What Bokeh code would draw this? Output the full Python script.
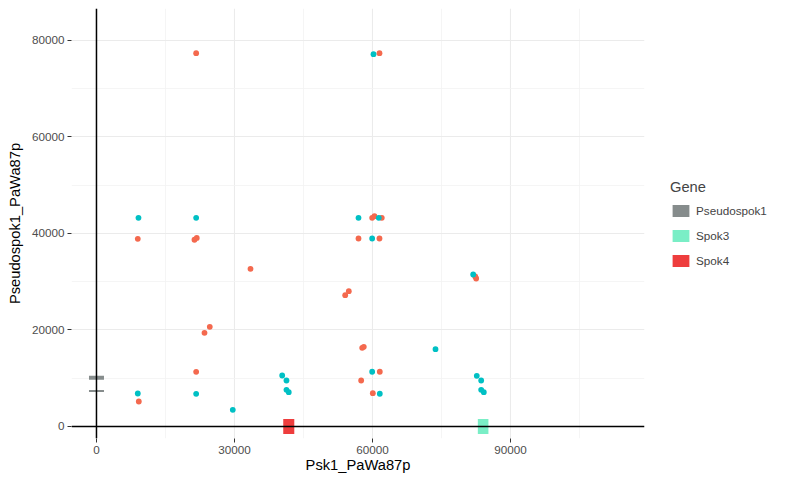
from bokeh.plotting import figure
from bokeh.models import Range1d, FixedTicker, Legend, LegendItem, Span
from bokeh.embed import file_html
from bokeh.resources import INLINE

# Hits on the forward strand (orange)
fwd_x = [21670, 61520, 8980, 21300, 21800, 33480, 23480, 24630, 21670, 9200,
         59930, 60430, 62020, 56960, 61520, 54070, 54850, 57760, 58110, 61590,
         57540, 60070, 82330, 82540]
fwd_y = [77370, 77370, 38900, 38700, 39070, 32680, 19420, 20660, 11340, 5180,
         43250, 43590, 43250, 38960, 38960, 27210, 28040, 16310, 16520, 11340,
         9530, 6900, 31090, 30670]

# Hits on the reverse strand (cyan)
rev_x = [60220, 9130, 21670, 56960, 61370, 59930, 8980, 21670, 29630, 40370,
         41300, 41300, 41800, 59930, 61590, 73700, 81890, 82670, 83630, 83630,
         84200]
rev_y = [77160, 43250, 43250, 43250, 43250, 38960, 6840, 6780, 3460, 10570,
         9530, 7610, 7110, 11340, 6780, 16020, 31500, 10510, 9530, 7610,
         7110]

# Gene annotations: name, start, end, sequence axis
gene_name = ["Pseudospok1", "Pseudospok1", "Spok3", "Spok4"]
gene_start = [7150, 9690, 82900, 40600]
gene_end = [7560, 10520, 85200, 43000]
gene_axis = ["y", "y", "x", "x"]
gene_levels = ["Pseudospok1", "Spok3", "Spok4"]
gene_colors = ["#868C8C", "#7AEEC6", "#EE3D3D"]

x_ticks = [0, 30000, 60000, 90000]
x_minor = [15000, 45000, 75000, 105000]
y_ticks = [0, 20000, 40000, 60000, 80000]
y_minor = [10000, 30000, 50000, 70000]

FONT = "Liberation Sans"
X0, X1 = -5430, 119130
Y0, Y1 = -2490, 86630
HALF_X = 1630   # half thickness of gene boxes drawn on the y axis
HALF_Y = 1555   # half thickness of gene boxes drawn on the x axis

p = figure(frame_width=573, frame_height=430, output_backend="svg", toolbar_location=None,
           x_range=Range1d(X0, X1), y_range=Range1d(Y0, Y1),
           min_border_left=71, min_border_right=126, min_border_top=8,
           min_border_bottom=38)
p.outline_line_color = None
p.background_fill_color = "white"

p.xaxis.ticker = FixedTicker(ticks=x_ticks, minor_ticks=x_minor)
p.yaxis.ticker = FixedTicker(ticks=y_ticks, minor_ticks=y_minor)
for ax in (p.xaxis, p.yaxis):
    ax.axis_line_color = None
    ax.major_tick_in = 0
    ax.major_tick_out = 4
    ax.major_tick_line_color = "#333333"
    ax.minor_tick_in = 0
    ax.minor_tick_out = 0
    ax.major_label_text_font = FONT
    ax.major_label_text_font_size = "11.7px"
    ax.major_label_text_color = "#4D4D4D"
    ax.axis_label_text_font = FONT
    ax.axis_label_text_font_size = "14.7px"
    ax.axis_label_text_font_style = "normal"
    ax.axis_label_text_color = "black"
p.xaxis.axis_label = "Psk1_PaWa87p"
p.yaxis.axis_label = "Pseudospok1_PaWa87p"
p.xaxis.major_label_standoff = 3
p.yaxis.major_label_standoff = 3
p.xaxis.axis_label_standoff = 0
p.yaxis.axis_label_standoff = 6

for g in (p.xgrid, p.ygrid):
    g.grid_line_color = "#EBEBEB"
    g.grid_line_width = 1.1
    g.minor_grid_line_color = "#F3F3F3"
    g.minor_grid_line_width = 0.8

p.scatter(fwd_x, fwd_y, size=5.8, color="#F4694E", line_color=None)
p.scatter(rev_x, rev_y, size=5.8, color="#00C0C4", line_color=None)

p.add_layout(Span(location=0, dimension="width", line_color="black", line_width=1.5))
p.add_layout(Span(location=0, dimension="height", line_color="black", line_width=1.5))

left, right, bottom, top, colors = [], [], [], [], []
for n, s, e, a in zip(gene_name, gene_start, gene_end, gene_axis):
    c = gene_colors[gene_levels.index(n)]
    if a == "x":
        left.append(s); right.append(e); bottom.append(-HALF_Y); top.append(HALF_Y)
    else:
        left.append(-HALF_X); right.append(HALF_X); bottom.append(s); top.append(e)
    colors.append(c)
p.quad(left=left, right=right, bottom=bottom, top=top, fill_color=colors, line_color=None)

# legend swatches
items = []
for n, c in zip(gene_levels, gene_colors):
    r = p.quad(left=[0], right=[0], bottom=[0], top=[0], fill_color=c, line_color=None)
    items.append(LegendItem(label=n, renderers=[r]))

leg = Legend(items=items, title="Gene", location=(26, 170),
             title_text_font=FONT, title_text_font_size="14.7px",
             title_text_font_style="normal",
             label_text_font=FONT, label_text_font_size="11.7px",
             glyph_width=21, glyph_height=15, spacing=10, label_standoff=5,
             padding=0, margin=0, border_line_color=None, background_fill_alpha=0,
             title_standoff=8, label_height=15)
p.add_layout(leg, "right")

open("out.html", "w").write(file_html(p, INLINE))
